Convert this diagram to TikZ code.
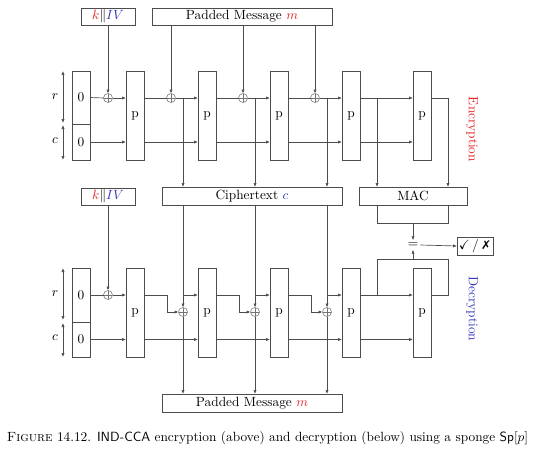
\documentclass[tikz,border=0pt]{standalone}
\usepackage{amssymb}
\usepackage{fontspec}
\newfontfamily\dejavu{DejaVu Sans}
\usetikzlibrary{arrows.meta,calc}
\definecolor{myred}{RGB}{225,35,35}
\definecolor{myblue}{RGB}{55,55,185}
\begin{document}
\begin{tikzpicture}[x=0.75pt,y=-0.75pt,
  ln/.style={black!70,line width=0.5pt},
  arr/.style={ln,-{Latex[length=3pt,width=2.4pt]}},
  dim/.style={ln,{Latex[length=3pt,width=2.4pt]}-{Latex[length=3pt,width=2.4pt]}},
  box/.style={draw=black!70,line width=0.5pt,inner sep=0pt,outer sep=0pt,minimum height=18*0.75pt},
  pbox/.style={draw=black!70,line width=0.5pt,inner sep=0pt,outer sep=0pt,minimum width=18*0.75pt,minimum height=89*0.75pt},
  sbox/.style={draw=black!70,line width=0.5pt,inner sep=0pt,outer sep=0pt,minimum width=18*0.75pt},
  xor/.style={circle,draw=black!55,line width=0.4pt,minimum size=9*0.75pt,inner sep=0pt,outer sep=0pt,
    path picture={\draw[black!55,line width=0.4pt] (path picture bounding box.north)--(path picture bounding box.south) (path picture bounding box.west)--(path picture bounding box.east);}},
]
\useasboundingbox (0,0) rectangle (535,453);

% ---------------- Encryption ----------------
\node[box,minimum width=54*0.75pt,minimum height=17*0.75pt] (kiv1) at (108,16.5) {$\color{myred}k\color{black}\|\color{myblue}IV$};
\node[box,minimum width=180*0.75pt,minimum height=17*0.75pt] (pm1) at (242,16.5) {Padded Message $\color{myred}m$};
\node[sbox,minimum height=53*0.75pt] (s1a) at (81,97.5) {0};
\node[sbox,minimum height=36*0.75pt] (s1b) at (81,142) {0};
\foreach \i/\x in {1/135,2/207,3/279,4/351,5/422}
  \node[pbox] (p\i) at (\x,115.5) {p};
\node[xor] (x1) at (108,98) {};
\node[xor] (x2) at (171,98) {};
\node[xor] (x3) at (243,98) {};
\node[xor] (x4) at (315,98) {};
\node[box,minimum width=180*0.75pt] (ct) at (252,196) {Ciphertext $\color{myblue}c$};
\node[box,minimum width=108*0.75pt] (mac) at (413,196) {MAC};
\node[text=myred,rotate=-90] (enc) at (472,129.5) {Encryption};

\draw[dim] (63,71) -- (63,123);
\draw[dim] (63,125) -- (63,160);
\node (rl1) at (55,97) {$r$};
\node (cl1) at (55,141) {$c$};

\draw[arr] (kiv1.south) -- (x1.north);
\draw[ln] (s1a.east) -- (x1.west);
\draw[arr] (x1.east) -- (x1 -| p1.west);
\draw[arr] (s1b.east) -- (s1b.east -| p1.west);
\foreach \a/\b in {1/2,2/3,3/4}{
  \draw[ln] (x1 -| p\a.east) -- (x\b.west);
  \draw[arr] (x\b.east) -- (x1 -| p\b.west);
  \draw[arr] (s1b -| p\a.east) -- (s1b -| p\b.west);
  \draw[arr] (pm1.south -| x\b) -- (x\b.north);
}
\draw[arr] (x1 -| p4.east) -- (x1 -| p5.west);
\draw[arr] (s1b -| p4.east) -- (s1b -| p5.west);
\coordinate (b2) at (183,98);
\coordinate (b3) at (255,98);
\coordinate (b4) at (327,98);
\coordinate (b5) at (377,98);
\coordinate (b6) at (448,98);
\foreach \b in {b2,b3,b4} \draw[arr] (\b) -- (\b |- ct.north);
\draw[arr] (b5) -- (b5 |- mac.north);
\draw[arr] (x1 -| p5.east) -- (b6) -- (b6 |- mac.north);

% ---------------- Decryption ----------------
\node[box,minimum width=54*0.75pt,minimum height=17*0.75pt] (kiv2) at (108,196.5) {$\color{myred}k\color{black}\|\color{myblue}IV$};
\node[sbox,minimum height=54*0.75pt] (s2a) at (81,295) {0};
\node[sbox,minimum height=35*0.75pt] (s2b) at (81,339.5) {0};
\foreach \i/\x in {1/135,2/207,3/279,4/351,5/422}
  \node[pbox] (q\i) at (\x,312.5) {p};
\node[xor] (y1) at (108,295) {};
\node[xor] (y2) at (183,312) {};
\node[xor] (y3) at (255,312) {};
\node[xor] (y4) at (327,312) {};
\node[box,minimum width=180*0.75pt] (pm2) at (252,403) {Padded Message $\color{myred}m$};
\node[text=myblue,rotate=-90] (dec) at (472,309) {Decryption};
\node[inner sep=1.5pt] (eq) at (413,245) {$=$};
\node[box,minimum width=36*0.75pt] (chk) at (475,246) {$\checkmark$\,/\,{\dejavu\small\bfseries ✗}};

\draw[dim] (63,268) -- (63,320);
\draw[dim] (63,323) -- (63,357);
\node (rl2) at (55,294) {$r$};
\node (cl2) at (55,338) {$c$};

\draw[arr] (kiv2.south) -- (y1.north);
\draw[ln] (s2a.east) -- (y1.west);
\draw[arr] (y1.east) -- (y1 -| q1.west);
\draw[arr] (s2b.east) -- (s2b.east -| q1.west);
\coordinate (e2) at (167,312);
\coordinate (e3) at (239,312);
\coordinate (e4) at (311,312);
\foreach \a/\b in {1/2,2/3,3/4}{
  \draw[arr] (ct.south -| y\b) -- (y\b.north);
  \draw[arr] (y\b.south) -- (y\b |- pm2.north);
  \draw[arr] (y1 -| y\b) -- (y1 -| q\b.west);
  \draw[arr] (y1 -| q\a.east) -| (e\b) -- (y\b.west);
  \draw[arr] (s2b -| q\a.east) -- (s2b -| q\b.west);
}
\draw[arr] (y1 -| q4.east) -- (y1 -| q5.west);
\draw[arr] (s2b -| q4.east) -- (s2b -| q5.west);
\coordinate (lt) at (377,259);
\coordinate (rt) at (448,259);
\draw[ln] (y1 -| q5.east) -| (rt) -- (lt) -- (lt |- y1);
\draw[arr] (eq |- lt) -- (eq.south);
\coordinate (ml) at (377,223);
\coordinate (mr) at (448,223);
\draw[ln] (mac.south -| ml) -- (ml) -- (mr) -- (mac.south -| mr);
\draw[arr] (mac.south |- ml) -- (eq.north);
\draw[arr] (eq.east) -- (chk.west);

% ---------------- Caption ----------------
\node (cap) at (267.5,438) {\textsc{Figure} 14.12. \textsf{IND-CCA} encryption (above) and decryption (below) using a sponge \textsf{Sp}$[p]$};
\end{tikzpicture}
\end{document}
